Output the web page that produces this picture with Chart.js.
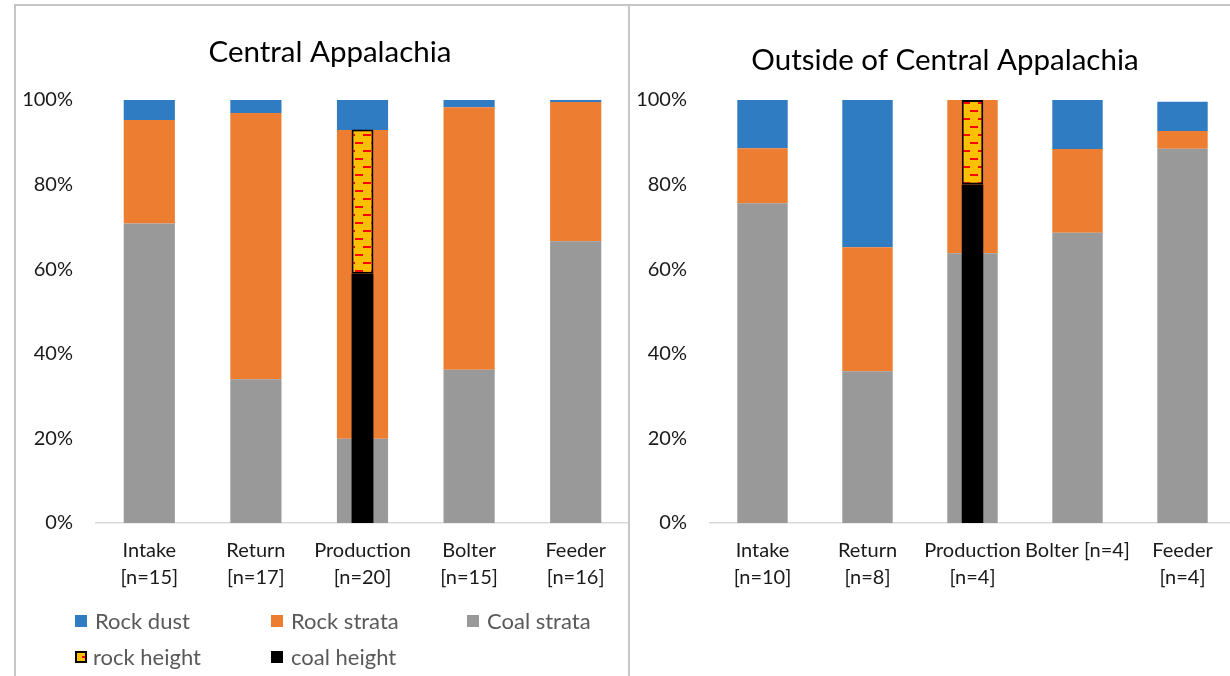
<!DOCTYPE html>
<html>
<head>
<meta charset="utf-8">
<title>Dust composition by sampling location</title>
<script src="https://cdn.jsdelivr.net/npm/chart.js@4.4.1/dist/chart.umd.min.js"></script>
<style>
  html, body { margin: 0; padding: 0; background: #fff; overflow: hidden; }
  #stage { position: relative; width: 1230px; height: 676px; overflow: hidden; font-family: Lato, "Open Sans", sans-serif; }
  .panel { position: absolute; top: 0; height: 676px; }
  #leftPanel { left: 0; width: 629px; }
  #rightPanel { left: 631px; width: 604px; }
  .rule { position: absolute; background: #c6c6c6; pointer-events: none; }
  .lg { position: absolute; font-size: 22px; color: #595959; line-height: 24px; white-space: nowrap; }
  .sw { position: absolute; width: 12px; height: 12px; box-sizing: border-box; }
</style>
</head>
<body>
<div id="stage">
  <div class="panel" id="leftPanel"><canvas id="leftChart" width="629" height="676"></canvas></div>
  <div class="panel" id="rightPanel"><canvas id="rightChart" width="604" height="676"></canvas></div>

  <div class="rule" style="left:15px;top:4px;width:1215px;height:2px;"></div>
  <div class="rule" style="left:14px;top:4px;width:2px;height:672px;"></div>
  <div class="rule" style="left:628px;top:4px;width:2px;height:672px;"></div>

  <!-- legend for the left panel -->
  <div class="sw" style="left:75px;top:615px;background:#2F7CC3;"></div>
  <div class="lg" style="left:95px;top:609px;">Rock dust</div>
  <div class="sw" style="left:271px;top:615px;background:#ED7D31;"></div>
  <div class="lg" style="left:291px;top:609px;">Rock strata</div>
  <div class="sw" style="left:467px;top:615px;background:#999999;"></div>
  <div class="lg" style="left:487px;top:609px;">Coal strata</div>
  <div class="sw" style="left:75px;top:651px;background:#FFC000;border:2px solid #000;">
    <div style="position:absolute;left:5px;top:3px;width:3px;height:2px;background:#f00;"></div>
  </div>
  <div class="lg" style="left:93px;top:645px;">rock height</div>
  <div class="sw" style="left:271px;top:651px;background:#000;"></div>
  <div class="lg" style="left:291px;top:645px;">coal height</div>
</div>

<script>
// Category labels
const leftLabels  = [["Intake", "[n=15]"], ["Return", "[n=17]"], ["Production", "[n=20]"], ["Bolter", "[n=15]"], ["Feeder", "[n=16]"]];
const rightLabels = [["Intake", "[n=10]"], ["Return", "[n=8]"], ["Production", "[n=4]"], "Bolter [n=4]", ["Feeder", "[n=4]"]];

// Central Appalachia, percent by mass
const leftCoalStrata = [70.8, 34.0, 19.9, 36.2, 66.6];
const leftRockStrata = [24.5, 62.9, 73.0, 62.1, 32.9];
const leftRockDust   = [4.7, 3.1, 7.1, 1.7, 0.5];
const leftCoalHeight = [null, null, [0, 58.9], null, null];
const leftRockHeight = [null, null, [58.9, 93.0], null, null];

// Outside of Central Appalachia, percent by mass
const rightCoalStrata = [75.6, 35.9, 63.8, 68.6, 88.5];
const rightRockStrata = [13.0, 29.3, 36.2, 19.8, 4.2];
const rightRockDust   = [11.4, 34.8, 0, 11.6, 6.9];
const rightCoalHeight = [null, null, [0, 80.0], null, null];
const rightRockHeight = [null, null, [80.0, 100], null, null];

// Y axis ticks
const yTicks = [0, 20, 40, 60, 80, 100];

const COLORS = { dust: '#2F7CC3', rock: '#ED7D31', coal: '#999999', gold: '#FFC000' };
const FONT = 'Lato, "Open Sans", sans-serif';

Chart.defaults.font.family = FONT;
Chart.defaults.font.size = 20;
Chart.defaults.color = '#1a1a1a';

// Panel heading drawn at a fixed spot on the canvas
const panelTitle = {
  id: 'panelTitle',
  afterDraw(chart, args, opts) {
    const ctx = chart.ctx;
    ctx.save();
    ctx.font = opts.size + 'px ' + FONT;
    ctx.fillStyle = '#000';
    ctx.textAlign = 'center';
    ctx.textBaseline = 'middle';
    ctx.fillText(opts.text, opts.x, opts.y);
    ctx.restore();
  }
};

// Gold fill with short red horizontal dashes
function dashPattern() {
  const c = document.createElement('canvas');
  c.width = 16; c.height = 16;
  const g = c.getContext('2d');
  g.fillStyle = COLORS.gold; g.fillRect(0, 0, 16, 16);
  g.fillStyle = '#FF0000';
  g.fillRect(11, 6, 5, 2); g.fillRect(0, 6, 3, 2);
  g.fillRect(3, 14, 8, 2);
  return g.createPattern(c, 'repeat');
}

function buildChart(id, cfg) {
  const pattern = dashPattern();
  const main = { grouped: false, order: 1, barPercentage: 0.48, categoryPercentage: 1, borderWidth: 0 };
  const overlay = { xAxisID: 'x2', yAxisID: 'y2', grouped: false, order: 0, barPercentage: 0.205, categoryPercentage: 1 };
  return new Chart(document.getElementById(id), {
    type: 'bar',
    plugins: [panelTitle],
    data: {
      labels: cfg.labels,
      datasets: [
        Object.assign({ label: 'rock height', data: cfg.rockHeight, backgroundColor: pattern,
          borderColor: '#000', borderWidth: 2, borderSkipped: false }, overlay),
        Object.assign({ label: 'coal height', data: cfg.coalHeight, backgroundColor: '#000', borderWidth: 0 }, overlay),
        Object.assign({ label: 'Coal strata', data: cfg.coal, backgroundColor: COLORS.coal }, main),
        Object.assign({ label: 'Rock strata', data: cfg.rock, backgroundColor: COLORS.rock }, main),
        Object.assign({ label: 'Rock dust', data: cfg.dust, backgroundColor: COLORS.dust }, main)
      ]
    },
    options: {
      responsive: false,
      animation: false,
      events: [],
      layout: { padding: { left: 0, right: 0, top: 100, bottom: 0 } },
      plugins: {
        legend: { display: false },
        tooltip: { enabled: false },
        title: { display: false },
        panelTitle: { text: cfg.title, x: cfg.titleX, y: cfg.titleY, size: 29.5 }
      },
      scales: {
        x: {
          stacked: true, offset: true,
          grid: { display: false, drawTicks: false },
          border: { display: true, color: '#D9D9D9', width: 1.5 },
          ticks: { padding: 14, maxRotation: 0, autoSkip: false, color: '#1a1a1a', font: { size: 20, lineHeight: 1.35 } },
          afterFit: s => { s.height = 153; }
        },
        y: {
          stacked: true, min: 0, max: 100,
          grid: { display: false, drawTicks: false },
          border: { display: false },
          afterBuildTicks: s => { s.ticks = yTicks.map(v => ({ value: v })); },
          ticks: { padding: 23, color: '#1a1a1a', font: { size: 20 }, callback: v => v + '%' },
          afterFit: s => { s.width = cfg.yWidth; }
        },
        x2: { type: 'category', display: false, offset: true, stacked: false, grid: { offset: true } },
        y2: { display: false, min: 0, max: 100, stacked: false }
      }
    }
  });
}

buildChart('leftChart', {
  labels: leftLabels, title: 'Central Appalachia',
  coal: leftCoalStrata, rock: leftRockStrata, dust: leftRockDust,
  coalHeight: leftCoalHeight, rockHeight: leftRockHeight,
  yWidth: 96, titleX: 330, titleY: 52
});

buildChart('rightChart', {
  labels: rightLabels, title: 'Outside of Central Appalachia',
  coal: rightCoalStrata, rock: rightRockStrata, dust: rightRockDust,
  coalHeight: rightCoalHeight, rockHeight: rightRockHeight,
  yWidth: 79, titleX: 314, titleY: 60
});
</script>
</body>
</html>
